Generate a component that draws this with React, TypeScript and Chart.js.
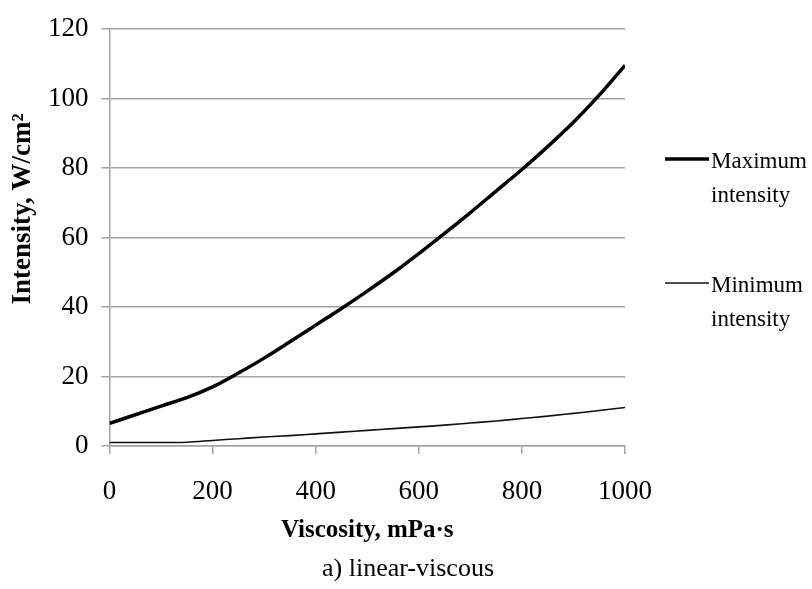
import React, { useEffect, useRef } from "react";
import { Chart, registerables } from "chart.js";

Chart.register(...registerables);

// ---- Data ----
const viscosity = [0, 50, 100, 150, 200, 250, 300, 350, 400, 450, 500, 550, 600, 650, 700, 750, 800, 850, 900, 950, 1000];
const maxIntensity = [6.5, 9.0, 11.5, 13.9, 17.0, 21.0, 25.3, 30.0, 34.8, 39.6, 44.6, 49.8, 55.4, 61.2, 67.2, 73.4, 79.6, 86.2, 93.2, 101.0, 109.6];
const minIntensity = [1.0, 1.0, 1.0, 1.1, 1.6, 2.1, 2.6, 3.0, 3.5, 4.0, 4.5, 5.0, 5.5, 6.0, 6.6, 7.2, 7.9, 8.6, 9.4, 10.2, 11.1];
const seriesNames = [["Maximum", "intensity"], ["Minimum", "intensity"]];
const xTickValues = [0, 200, 400, 600, 800, 1000];
const yTickValues = [0, 20, 40, 60, 80, 100, 120];
const xTitle = "Viscosity, mPa·s";
const yTitle = "Intensity, W/cm²";
const caption = "a) linear-viscous";

const SERIF = '"Liberation Serif", "Times New Roman", serif';
const GRID = "#a3a3a3";

const extrasPlugin = {
  id: "extras",
  afterDraw(chart: any) {
    const ctx = chart.ctx as CanvasRenderingContext2D;
    const area = chart.chartArea;
    ctx.save();
    ctx.fillStyle = "#000";

    // y-axis title
    ctx.save();
    ctx.translate(23, 209);
    ctx.rotate(-Math.PI / 2);
    ctx.font = `bold 27px ${SERIF}`;
    ctx.textAlign = "center";
    ctx.textBaseline = "middle";
    ctx.fillText(yTitle, 0, 0);
    ctx.restore();

    // legend
    ctx.font = `23px ${SERIF}`;
    ctx.textAlign = "left";
    ctx.textBaseline = "middle";
    chart.data.datasets.forEach((ds: any, i: number) => {
      const y = 159 + i * 124;
      const x0 = area.right + 40;
      ctx.beginPath();
      ctx.strokeStyle = ds.borderColor;
      ctx.lineWidth = ds.borderWidth;
      ctx.moveTo(x0, y);
      ctx.lineTo(x0 + 44, y);
      ctx.stroke();
      const lines = seriesNames[i];
      lines.forEach((t, k) => ctx.fillText(t, x0 + 46, y + 3 + k * 34));
    });

    // caption
    ctx.font = `26px ${SERIF}`;
    ctx.textAlign = "center";
    ctx.fillText(caption, 408, 569);
    ctx.restore();
  },
};

export default function App() {
  const ref = useRef<HTMLCanvasElement>(null);

  useEffect(() => {
    if (!ref.current) return;
    const chart = new Chart(ref.current, {
      type: "line",
      data: {
        datasets: [
          {
            label: seriesNames[0].join(" "),
            data: viscosity.map((v, i) => ({ x: v, y: maxIntensity[i] })),
            borderColor: "#000",
            borderWidth: 3.5,
            pointRadius: 0,
            tension: 0.3,
            cubicInterpolationMode: "monotone",
          },
          {
            label: seriesNames[1].join(" "),
            data: viscosity.map((v, i) => ({ x: v, y: minIntensity[i] })),
            borderColor: "#111",
            borderWidth: 1.6,
            pointRadius: 0,
            tension: 0.3,
            cubicInterpolationMode: "monotone",
          },
        ],
      },
      options: {
        animation: false,
        responsive: true,
        maintainAspectRatio: false,
        layout: { padding: { top: 25.5, right: 187, left: 0, bottom: 0 } },
        plugins: {
          legend: { display: false },
          tooltip: { enabled: false },
        },
        scales: {
          x: {
            type: "linear",
            min: 0,
            max: 1000,
            afterBuildTicks: (s: any) => {
              s.ticks = xTickValues.map((v) => ({ value: v }));
            },
            afterFit: (s: any) => {
              s.height = 143;
            },
            grid: {
              drawOnChartArea: false,
              drawTicks: true,
              tickLength: 8,
              color: GRID,
              lineWidth: 1.5,
            },
            border: { color: GRID, width: 1.5 },
            ticks: {
              color: "#000",
              padding: 22,
              maxRotation: 0,
              callback: (v: any) => String(v),
              font: { family: SERIF, size: 27 },
            },
            title: {
              display: true,
              text: xTitle,
              color: "#000",
              font: { family: SERIF, size: 25, weight: "bold" },
              padding: { top: 0, bottom: 43 },
            },
          },
          y: {
            type: "linear",
            min: 0,
            max: 120,
            afterBuildTicks: (s: any) => {
              s.ticks = yTickValues.map((v) => ({ value: v }));
            },
            afterFit: (s: any) => {
              s.width = 109.5;
            },
            grid: {
              drawOnChartArea: true,
              drawTicks: true,
              tickLength: 8,
              color: GRID,
              lineWidth: 1.5,
            },
            border: { color: GRID, width: 1.5 },
            ticks: {
              color: "#000",
              padding: 13,
              callback: (v: any) => String(v),
              font: { family: SERIF, size: 27 },
            },
          },
        },
      },
      plugins: [extrasPlugin],
    } as any);
    return () => chart.destroy();
  }, []);

  return (
    <div style={{ position: "absolute", left: 0, top: 0, width: 812, height: 589, background: "#fff" }}>
      <canvas ref={ref} />
    </div>
  );
}
